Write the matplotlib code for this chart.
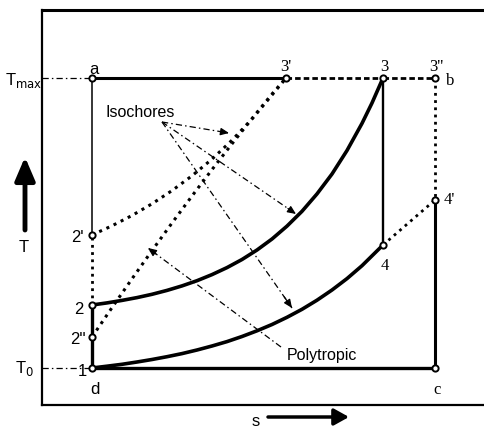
import matplotlib
matplotlib.use("Agg")
import matplotlib.pyplot as plt

# ==============================
# STATE POINTS (s, T in arbitrary units)
# ==============================

s_a, s_3p, s_3, s_b = 5.0, 24.4, 34.1, 39.3
T_0, T_2pp, T_2, T_2p = 3.7, 6.8, 10.0, 17.0
T_4, T_4p, T_max = 16.0, 20.5, 32.7

# isochore 2 -> 3 (thick)
s_up = [5.0, 6.5, 8.0, 9.5, 11.0, 12.5, 14.0, 15.5, 17.0, 18.5, 20.0,
        21.5, 23.0, 24.5, 26.0, 27.5, 29.0, 30.5, 32.0, 33.0, 34.1]
T_up = [10.0, 10.21, 10.46, 10.74, 11.07, 11.46, 11.91, 12.43, 13.04, 13.74, 14.55,
        15.50, 16.6, 17.89, 19.37, 21.11, 23.1, 25.45, 28.16, 30.2, 32.7]

# isochore 1 -> 4 (thick)
s_low = [5.0, 6.5, 8.0, 9.5, 11.0, 12.5, 14.0, 15.5, 17.0, 18.5, 20.0,
         21.5, 23.0, 24.5, 26.0, 27.5, 29.0, 30.5, 32.0, 34.1]
T_low = [3.7, 3.88, 4.07, 4.30, 4.55, 4.83, 5.14, 5.50, 5.9, 6.34, 6.85,
         7.42, 8.05, 8.77, 9.57, 10.48, 11.5, 12.64, 13.93, 16.0]

# dotted 2' -> 3'
s_2p3 = [5.0, 7.0, 9.0, 11.0, 13.0, 15.0, 17.0, 19.0, 21.0, 23.0, 24.4]
T_2p3 = [17.0, 17.92, 18.95, 20.12, 21.44, 22.92, 24.59, 26.48, 28.6, 31.0, 32.7]

# dotted 2'' -> 3' (polytropic)
s_2pp3 = [5.0, 7.0, 9.0, 11.0, 13.0, 15.0, 17.0, 19.0, 21.0, 23.0, 24.4]
T_2pp3 = [6.8, 9.74, 12.62, 15.44, 18.2, 20.9, 23.54, 26.12, 28.64, 31.1, 32.7]

# marked points
pt_s = [s_a, s_3p, s_3, s_b, s_b, s_3, s_b, s_a, s_a, s_a, s_a]
pt_T = [T_max, T_max, T_max, T_max, T_4p, T_4, T_0, T_0, T_2p, T_2, T_2pp]

# annotation pointers
iso_from = (12.0, 28.3)
iso_tips = [(18.7, 27.2), (25.4, 19.1), (25.0, 9.7)]
poly_from = (23.9, 5.8)
poly_tip = (10.6, 15.7)

SANS = "Liberation Sans"
SERIF = "Liberation Serif"
dashdot = (0, (5, 2.5, 1.2, 2.5))
dots = (0, (1, 1.6))
dashes = (0, (2, 1.1))

# ==============================
# FIGURE
# ==============================

fig = plt.figure(figsize=(4.85, 4.28), dpi=100)
ax = fig.add_axes([42 / 485, 23 / 428, 443 / 485, 395 / 428])
ax.set_xlim(0, 44.3)
ax.set_ylim(0, 39.5)
ax.set_xticks([])
ax.set_yticks([])
ax.spines["right"].set_visible(False)
for sp in ["left", "bottom"]:
    ax.spines[sp].set_linewidth(1.6)
ax.spines["top"].set_linewidth(2.2)

# Tmax / T0 reference lines
ax.plot([0, s_a], [T_max, T_max], color="k", lw=0.9, ls=dashdot)
ax.plot([0, s_a], [T_0, T_0], color="k", lw=0.9, ls=dashdot)

# cycle lines
ax.plot([s_a, s_3p], [T_max, T_max], color="k", lw=2.2)
ax.plot([s_3p, s_3], [T_max, T_max], color="k", lw=2.0, ls=dashes)
ax.plot([s_3, s_b], [T_max, T_max], color="k", lw=2.0, ls=dashes)
ax.plot([s_b, s_b], [T_max, T_4p], color="k", lw=2.0, ls=dots)
ax.plot([s_b, s_b], [T_4p, T_0], color="k", lw=2.2)
ax.plot([s_a, s_b], [T_0, T_0], color="k", lw=2.4)
ax.plot([s_a, s_a], [T_0, T_2], color="k", lw=2.4)
ax.plot([s_a, s_a], [T_2, T_2p], color="k", lw=2.0, ls=dots)
ax.plot([s_a, s_a], [T_2p, T_max], color="k", lw=1.1)
ax.plot([s_3, s_3], [T_max, T_4], color="k", lw=1.7)
ax.plot([s_3, s_b], [T_4, T_4p], color="k", lw=2.0, ls=dots)

ax.plot(s_up, T_up, color="k", lw=2.6, solid_capstyle="round", solid_joinstyle="round")
ax.plot(s_low, T_low, color="k", lw=2.6, solid_capstyle="round", solid_joinstyle="round")
ax.plot(s_2p3, T_2p3, color="k", lw=2.2, ls=dots)
ax.plot(s_2pp3, T_2pp3, color="k", lw=2.2, ls=dots)

ax.plot(pt_s, pt_T, ls="none", marker="o", ms=4.5, mfc="white",
        mec="k", mew=1.4, zorder=5)

# pointer lines
def pointer(p0, p1):
    ax.plot([p0[0], p1[0]], [p0[1], p1[1]], color="k", lw=0.9, ls=dashdot)
    back = (p1[0] - 0.06 * (p1[0] - p0[0]), p1[1] - 0.06 * (p1[1] - p0[1]))
    ax.annotate("", xy=p1, xytext=back,
                arrowprops=dict(arrowstyle="-|>,head_length=0.5,head_width=0.22",
                                color="k", lw=0.9, mutation_scale=10,
                                shrinkA=0, shrinkB=0))

for tip in iso_tips:
    pointer(iso_from, tip)
pointer(poly_from, poly_tip)

ax.text(6.4, 28.8, "Isochores", fontsize=11.5, family=SANS, ha="left", va="baseline")
ax.text(24.5, 4.5, "Polytropic", fontsize=11.5, family=SANS, ha="left", va="baseline")

# point labels
sans_labels = [("a", 5.2, 33.6), ("d", 5.3, 1.6), ("1", 4.0, 3.3),
               ("2'", 3.5, 16.7), ("2", 3.7, 9.6), ("2''", 3.6, 6.6)]
for txt, x, y in sans_labels:
    ax.text(x, y, txt, fontsize=12, family=SANS, ha="center", va="center",
            clip_on=False)

serif_labels = [("3'", 24.4, 33.8), ("3", 34.2, 33.8), ("3''", 39.4, 33.8),
                ("b", 40.8, 32.4), ("4'", 40.7, 20.5), ("4", 34.3, 13.9),
                ("c", 39.5, 1.5)]
for txt, x, y in serif_labels:
    ax.text(x, y, txt, fontsize=12, family=SERIF, ha="center", va="center",
            clip_on=False)

ax.text(0.05, T_max - 0.3, r"T$_{\mathrm{max}}$", fontsize=12, family=SANS,
        ha="right", va="center", clip_on=False)
ax.text(-0.8, T_0 - 0.1, r"T$_{\mathrm{0}}$", fontsize=12, family=SANS,
        ha="right", va="center", clip_on=False)

# axis arrows
ax.annotate("", xy=(-1.7, 24.8), xytext=(-1.7, 17.5), annotation_clip=False,
            arrowprops=dict(arrowstyle="-|>,head_length=0.7,head_width=0.3",
                            color="k", lw=3.5, mutation_scale=20,
                            shrinkA=0, shrinkB=0))
ax.text(-1.8, 15.8, "T", fontsize=12, family=SANS, ha="center", va="center",
        clip_on=False)

ax.annotate("", xy=(30.7, -1.2), xytext=(22.6, -1.2), annotation_clip=False,
            arrowprops=dict(arrowstyle="-|>,head_length=0.45,head_width=0.25",
                            color="k", lw=2.5, mutation_scale=20,
                            shrinkA=0, shrinkB=0))
ax.text(21.4, -1.6, "s", fontsize=12, family=SANS, ha="center", va="center",
        clip_on=False)

fig.savefig("out.png", dpi=100)
